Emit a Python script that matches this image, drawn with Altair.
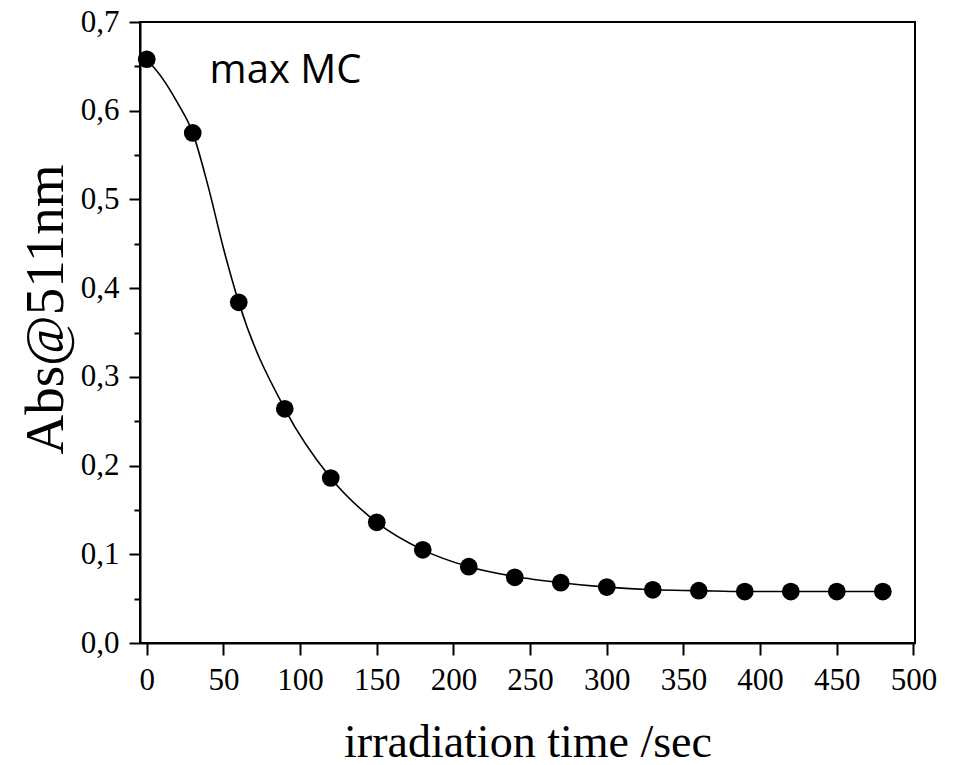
import altair as alt
import pandas as pd

# measured points
time_s = [0, 30, 60, 90, 120, 150, 180, 210, 240, 270, 300, 330, 360, 390, 420, 450, 480]
absorb = [0.658, 0.575, 0.384, 0.264, 0.186, 0.136, 0.105, 0.086, 0.074, 0.068,
          0.063, 0.060, 0.059, 0.058, 0.058, 0.058, 0.058]

# fitted curve
curve_t = [0, 10, 20, 30, 40, 50, 60, 90, 120, 150, 180, 210, 240, 270, 300, 330, 360, 390, 420, 450, 480]
curve_a = [0.658, 0.637, 0.609, 0.575, 0.515, 0.445, 0.384, 0.264, 0.186, 0.136, 0.105, 0.086, 0.075,
           0.068, 0.063, 0.060, 0.059, 0.058, 0.058, 0.058, 0.058]

x_ticks = list(range(0, 501, 25))
y_ticks = [round(i * 0.05, 2) for i in range(0, 15)]

df = pd.DataFrame({"t": time_s, "a": absorb})
df_curve = pd.DataFrame({"t": curve_t, "a": curve_a})

serif = "Liberation Serif"

x_enc = alt.X(
    "t:Q",
    scale=alt.Scale(domain=[-4.4, 501], nice=False, zero=False),
    axis=alt.Axis(
        title="irradiation time /sec",
        values=x_ticks,
        labelExpr="datum.value % 50 == 0 ? datum.label : ''",
        tickSize={"condition": {"test": "datum.value % 50 == 0", "value": 12}, "value": 6},
        labelOverlap=False,
        labelFlush=False,
        grid=False,
        titleY=113,
        titleBaseline="alphabetic",
        titleFontSize=46,
    ),
)
y_enc = alt.Y(
    "a:Q",
    scale=alt.Scale(domain=[0, 0.7], nice=False),
    axis=alt.Axis(
        title="Abs@511nm",
        values=y_ticks,
        labelExpr="round(datum.value*100) % 10 == 0 ? replace(format(datum.value, '.1f'), '.', ',') : ''",
        tickSize={"condition": {"test": "round(datum.value*100) % 10 == 0", "value": 11}, "value": 6},
        labelOverlap=False,
        labelFlush=False,
        grid=False,
        titleX=-78,
        titleY=287,
        titleBaseline="alphabetic",
        titleFontSize=55,
    ),
)

line = alt.Chart(df_curve).mark_line(color="black", strokeWidth=1.6, interpolate="monotone").encode(x=x_enc, y=y_enc)
pts = alt.Chart(df).mark_circle(color="black", size=314, opacity=1).encode(x="t:Q", y="a:Q")

ann = alt.Chart(pd.DataFrame({"t": [41], "a": [0.631], "txt": ["max MC"]})).mark_text(
    align="left", baseline="alphabetic", font="Open Sans", fontSize=40, color="black"
).encode(x="t:Q", y="a:Q", text="txt:N")

chart = (
    alt.layer(line, pts, ann)
    .properties(
        width=775,
        height=621,
        autosize=alt.AutoSizeParams(type="none"),
        padding={"left": 132, "top": 14, "right": 30, "bottom": 122},
    )
    .configure_view(stroke="black", strokeWidth=2)
    .configure_axis(
        domainColor="black",
        domainWidth=2,
        tickColor="black",
        tickWidth=2,
        labelFont=serif,
        labelFontSize=31,
        labelColor="black",
        labelPadding=10,
        titleFont=serif,
        titleFontWeight="normal",
        titleColor="black",
    )
)

chart.save("out.html", embed_options={"renderer": "svg", "actions": False})
